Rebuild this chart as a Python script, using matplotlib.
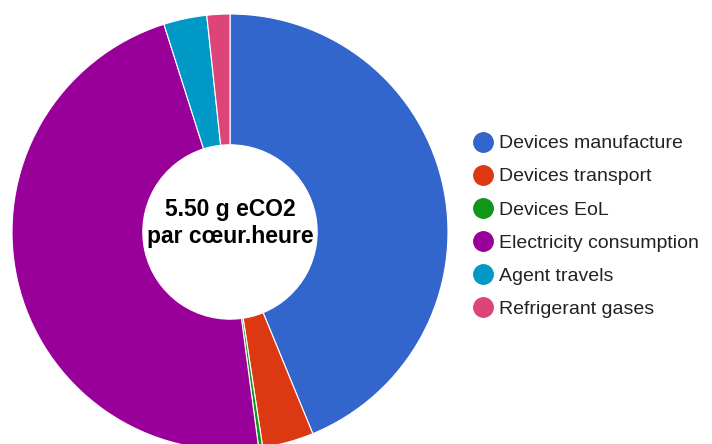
import matplotlib.pyplot as plt
from matplotlib.lines import Line2D

plt.rcParams['font.family'] = ['Liberation Sans', 'DejaVu Sans']

labels = ['Devices manufacture', 'Devices transport', 'Devices EoL',
          'Electricity consumption', 'Agent travels', 'Refrigerant gases']
shares = [43.8, 3.8, 0.3, 47.2, 3.2, 1.7]
colors = ['#3366cc', '#dc3912', '#109618', '#990099', '#0099c6', '#dd4477']
center_text = '5.50 g eCO2\npar cœur.heure'

fig = plt.figure(figsize=(7.12, 4.44), dpi=100)
# square box in pixels: x 12..448, y 14..450 (from top)
ax = fig.add_axes([12 / 712, (444 - 450) / 444, 436 / 712, 436 / 444])

ax.pie(shares, colors=colors, startangle=90, counterclock=False, radius=1,
       wedgeprops=dict(width=0.6, edgecolor='white', linewidth=0.8))
ax.set_xlim(-1, 1)
ax.set_ylim(-1, 1)
ax.set_aspect('auto')
ax.axis('off')

ax.text(0, 0.04, center_text, ha='center', va='center', fontsize=16.5,
        fontweight='bold', linespacing=1.2)

handles = [Line2D([], [], linestyle='none', marker='o', markersize=14,
                  markerfacecolor=c, markeredgecolor=c) for c in colors]
fig.legend(handles, labels, loc='upper left', bbox_to_anchor=(462 / 712, 1 - 125 / 444),
           frameon=False, fontsize=14, labelspacing=0.8, handletextpad=0.2,
           handlelength=1.2, borderpad=0, labelcolor='#222222')

fig.savefig('out.png', dpi=100)
